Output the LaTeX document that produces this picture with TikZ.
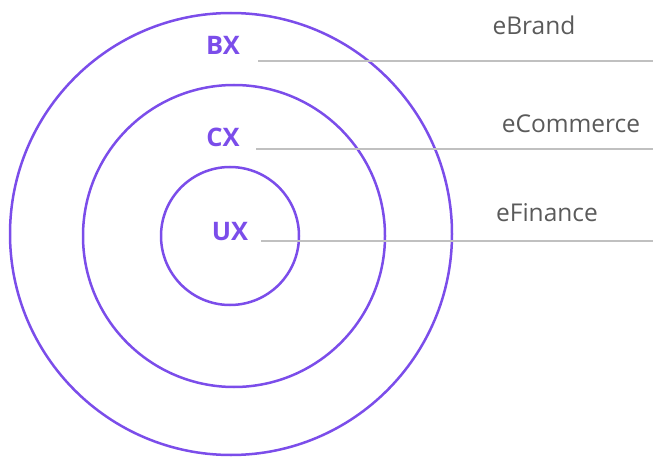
\documentclass[tikz,border=0pt]{standalone}
\usepackage{fontspec}
\setmainfont{Open Sans}
\usepackage{xcolor}
\usetikzlibrary{positioning}
\definecolor{ringpurple}{HTML}{7B4DEA}
\definecolor{linegray}{HTML}{C0C0C0}
\definecolor{textgray}{HTML}{5A5A5A}

\begin{document}
\begin{tikzpicture}[x=1pt,y=-1pt]

\tikzset{ring/.style={draw=ringpurple, line width=2.5pt},
ringlabel/.style={text=ringpurple, font=\fontsize{25.5}{30}\selectfont\bfseries, inner sep=0pt},
sidelabel/.style={text=textgray, font=\fontsize{24.5}{29}\selectfont, inner sep=0pt},
guide/.style={draw=linegray, line width=1.1pt}}

\useasboundingbox (0,0) rectangle (653,457);

%the three rings
\draw[ring] (231,234) circle (221);
\draw[ring] (234,236) circle (151);
\draw[ring] (230,236) circle (69);

%labels inside the rings
\node[ringlabel] (bx) at (223,45) {BX};
\node[ringlabel] (cx) at (223,137) {CX};
\node[ringlabel] (ux) at (230,232) {UX};

%labels on the right
\node[sidelabel] (ebrand) at (534,25) {eBrand};
\node[sidelabel] (ecommerce) at (571,124) {eCommerce};
\node[sidelabel] (efinance) at (547,213) {eFinance};

%guide lines
\foreach \n/\x/\y in {bx/258/61, cx/256/149, ux/261/241}{
  \coordinate (\n s) at (\x,\y);
  \coordinate (\n e) at (653,\y);
  \draw[guide] (\n s) -- (\n e);
}

\end{tikzpicture}
\end{document}
